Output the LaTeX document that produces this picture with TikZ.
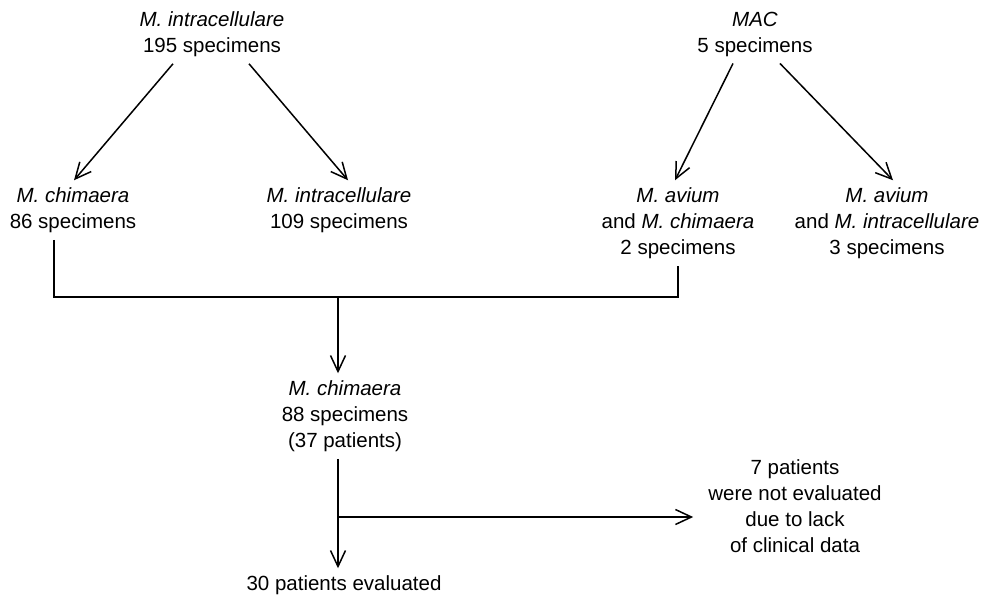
\documentclass[tikz,border=0pt]{standalone}
\usepackage{fontspec}
\setmainfont{Liberation Sans}
\usetikzlibrary{arrows.meta, calc}
\newcommand{\Mx}[1]{\textit{M. #1}}
\tikzset{
  L/.style={align=center, font=\fontsize{20.5}{26}\selectfont, inner sep=7pt},
  A/.style={-{Straight Barb[length=16pt,width=15pt]}, line width=1.5pt},
  ln/.style={line width=1.5pt},
}
\begin{document}
\begin{tikzpicture}[x=1pt, y=-1pt]
\useasboundingbox (0,0) rectangle (985,595);

% ── sources ──────────────────────────────────────────────────────────────
\node[L] (intra) at (212,34) {\Mx{intracellulare}\\195 specimens};
\node[L] (mac) at (755,34) {\textit{MAC}\\5 specimens};

% ── identification ───────────────────────────────────────────────────────
\node[L] (chim) at (73,210) {\Mx{chimaera}\\86 specimens};
\node[L] (intra2) at (339,210) {\Mx{intracellulare}\\109 specimens};
\node[L] (avchim) at (678,223) {\Mx{avium}\\and \Mx{chimaera}\\2 specimens};
\node[L] (avintra) at (887,223) {\Mx{avium}\\and \Mx{intracellulare}\\3 specimens};

\draw[A] ($(intra.south)+(-39,0)$) -- ($(chim.north)+(1,0)$);
\draw[A] ($(intra.south)+(37,0)$) -- ($(intra2.north)+(9,0)$);
\draw[A] ($(mac.south)+(-22,0)$) -- ($(avchim.north)+(-3,0)$);
\draw[A] ($(mac.south)+(25,0)$) -- ($(avintra.north)+(6,0)$);

% ── pooled M. chimaera ───────────────────────────────────────────────────
\node[L] (chim88) at (345,416) {\Mx{chimaera}\\88 specimens\\(37 patients)};
\coordinate (join) at (338,297);
\draw[ln] ($(chim.south)+(-19,0)$) |- (join) -| (avchim.south);
\draw[A] (join) -- (chim88.north -| join);

% ── evaluation ───────────────────────────────────────────────────────────
\node[L] (excl) at (795,506) {7 patients\\were not evaluated\\due to lack\\of clinical data};
\node[L] (eval) at (344,585) {30 patients evaluated};
\coordinate (split) at (338,517);
\draw[A] (chim88.south -| join) -- (eval.north -| join);
\draw[A] (split) -- ([xshift=-8pt]excl.west |- split);

\end{tikzpicture}
\end{document}
